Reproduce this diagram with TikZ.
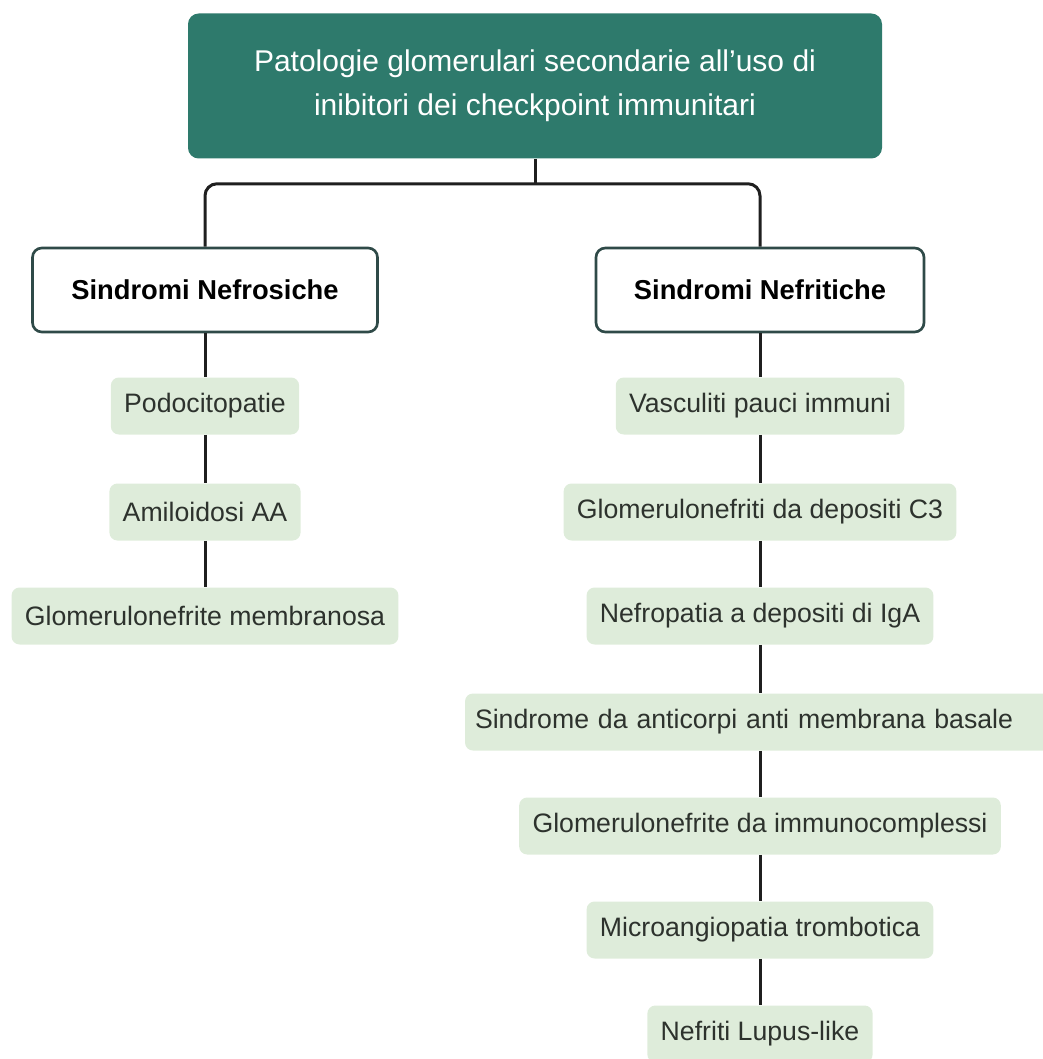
\documentclass[tikz,border=0pt]{standalone}
\usepackage{fontspec}
\setmainfont{Liberation Sans}
\definecolor{topfill}{RGB}{46,122,108}
\definecolor{midborder}{RGB}{47,74,72}
\definecolor{leaffill}{RGB}{222,236,218}
\definecolor{leaftext}{RGB}{45,50,45}
\begin{document}
\begin{tikzpicture}[x=0.75pt,y=-0.75pt,
  topbox/.style={fill=topfill, rounded corners=8pt, text=white, align=center,
    font=\fontsize{22.5}{33}\selectfont, minimum width=520.5pt, minimum height=108.75pt},
  midbox/.style={draw=midborder, line width=2pt, fill=white, rounded corners=7pt,
    font=\bfseries\fontsize{20.5}{24}\selectfont, minimum height=63pt},
  leaf/.style={fill=leaffill, rounded corners=6pt, text=leaftext,
    font=\fontsize{20}{24}\selectfont, minimum height=42.75pt, inner xsep=10pt},
  link/.style={line width=2.25pt, draw=black!88}
]
\useasboundingbox (0,0) rectangle (1042,1059);

\node[topbox] (top) at (535,86) {Patologie glomerulari secondarie all'uso di\\inibitori dei checkpoint immunitari};

\node[midbox, minimum width=258.75pt] (nfro) at (205,290) {Sindromi Nefrosiche};
\node[midbox, minimum width=246pt] (nfri) at (760,290) {Sindromi Nefritiche};

\node[leaf] (l1) at (205,406) {Podocitopatie};
\node[leaf] (l2) at (205,512) {Amiloidosi AA};
\node[leaf] (l3) at (205,616) {Glomerulonefrite membranosa};

\node[leaf] (r1) at (760,406) {Vasculiti pauci immuni};
\node[leaf] (r2) at (760,512) {Glomerulonefriti da depositi C3};
\node[leaf] (r3) at (760,616) {Nefropatia a depositi di IgA};
\node[leaf, text width=427.5pt, align=left, inner xsep=7.5pt] (r4) at (760,722) {Sindrome da anticorpi anti membrana basale};
\node[leaf] (r5) at (760,826) {Glomerulonefrite da immunocomplessi};
\node[leaf] (r6) at (760,930) {Microangiopatia trombotica};
\node[leaf] (r7) at (760,1034) {Nefriti Lupus-like};

\coordinate (j) at ([yshift=-18.75pt]top.south);
\draw[link] (top.south) -- (j);
\draw[link, rounded corners=9pt] (nfro.north) |- (j) -| (nfri.north);

\draw[link] (nfro.south) -- (l1.north);
\draw[link] (l1.south) -- (l2.north);
\draw[link] (l2.south) -- (l3.north);

\draw[link] (nfri.south) -- (r1.north);
\foreach \a/\b in {r1/r2,r2/r3,r3/r4,r4/r5,r5/r6,r6/r7}
  \draw[link] (\a.south) -- (\b.north);
\end{tikzpicture}
\end{document}
